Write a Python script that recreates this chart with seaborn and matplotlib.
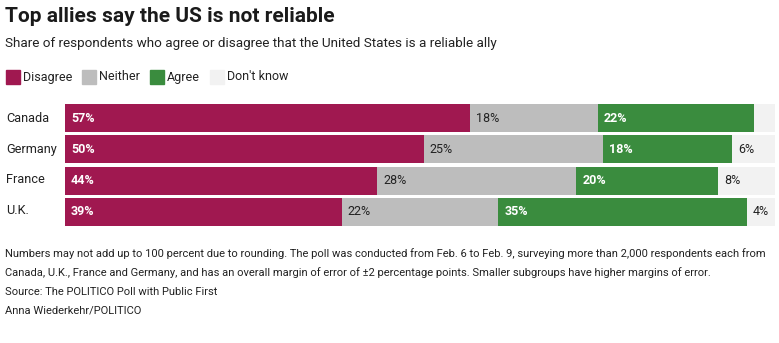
import matplotlib
matplotlib.use("Agg")
import matplotlib.pyplot as plt
import seaborn as sns
import pandas as pd
import numpy as np
from matplotlib.patches import Rectangle

countries = ["Canada", "Germany", "France", "U.K."]
disagree = [57, 50, 44, 39]
neither = [18, 25, 28, 22]
agree = [22, 18, 20, 35]
dont_know = [3, 6, 8, 4]
dk_labels = ["", "6%", "8%", "4%"]

categories = ["Disagree", "Neither", "Agree", "Don't know"]
colors = ["#A01850", "#BDBDBD", "#3A8C3E", "#F2F2F2"]

sns.set_theme(style="white")
plt.rcParams["font.family"] = ["Roboto", "DejaVu Sans"]

vals = np.array([disagree, neither, agree, dont_know], dtype=float)
tot = vals.sum(axis=0)
norm = vals / tot * 100
cum = np.cumsum(norm, axis=0)

W, H = 779, 343
fig = plt.figure(figsize=(W / 100, H / 100), dpi=100)

ax = fig.add_axes([65 / W, 1 - 227.5 / H, 710 / W, 125 / H])
for i in range(3, -1, -1):
    df = pd.DataFrame({"country": countries, "v": cum[i]})
    sns.barplot(data=df, y="country", x="v", orient="h", color=colors[i],
                width=0.9, saturation=1, ax=ax, linewidth=0)
ax.set_xlim(0, 100)
ax.set_ylim(3.5, -0.5)
ax.set_xlabel("")
ax.set_ylabel("")
ax.set_xticks([])
ax.set_yticks([])
for s in ax.spines.values():
    s.set_visible(False)

label_lists = [
    [f"{v}%" for v in disagree],
    [f"{v}%" for v in neither],
    [f"{v}%" for v in agree],
    dk_labels,
]
for i in range(4):
    for j in range(4):
        start = cum[i][j] - norm[i][j]
        txt = label_lists[i][j]
        if not txt:
            continue
        bold = i in (0, 2)
        ax.text(start + 0.85, j, txt, va="center", ha="left",
                fontsize=9, color="white" if bold else "#222222",
                fontweight="bold" if bold else "normal")

for j, c in enumerate(countries):
    fig.text(6 / W, 1 - (118 + j * 31) / H, c, fontsize=9.2, va="center",
             ha="left", color="#222222")

fig.text(5 / W, 1 - 17 / H, "Top allies say the US is not reliable",
         fontsize=15, fontweight="bold", va="center", ha="left", color="#1a1a1a")
fig.text(5 / W, 1 - 44 / H,
         "Share of respondents who agree or disagree that the United States is a reliable ally",
         fontsize=9.7, va="center", ha="left", color="#222222")

# legend
lx = 6
for cat, col in zip(categories, colors):
    fig.patches.append(Rectangle((lx / W, 1 - 84 / H), 14 / W, 14 / H,
                                 transform=fig.transFigure, color=col))
    t = fig.text((lx + 17) / W, 1 - 77 / H, cat, fontsize=9, va="center",
                 ha="left", color="#222222")
    fig.canvas.draw()
    bb = t.get_window_extent()
    lx = bb.x1 + 10

foot = [
    "Numbers may not add up to 100 percent due to rounding. The poll was conducted from Feb. 6 to Feb. 9, surveying more than 2,000 respondents each from",
    "Canada, U.K., France and Germany, and has an overall margin of error of \u00b12 percentage points. Smaller subgroups have higher margins of error.",
    "Source: The POLITICO Poll with Public First",
    "Anna Wiederkehr/POLITICO",
]
fs = 8.25
probe = fig.text(5 / W, 0.5, foot[0], fontsize=fs)
fig.canvas.draw()
wpx = probe.get_window_extent().width
probe.remove()
fs = fs * 766 / wpx
for k, line in enumerate(foot):
    fig.text(5 / W, 1 - (254 + k * 19) / H, line, fontsize=fs, va="center",
             ha="left", color="#222222")

fig.savefig("out.png", dpi=100)
